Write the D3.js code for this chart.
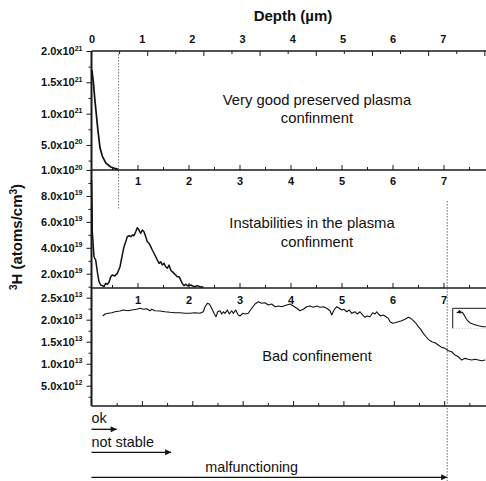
<!DOCTYPE html>
<html>
<head>
<meta charset="utf-8">
<script src="https://cdn.jsdelivr.net/npm/d3@7"></script>
<style>
  body { margin: 0; background: #fff; }
  svg { display: block; }
  text { font-family: Arial, "Liberation Sans", sans-serif; fill: #111; }
</style>
</head>
<body>
<svg id="chart" width="486" height="481"></svg>
<script>
// Depth tick labels along the top (µm)
const depthTicks = [0, 1, 2, 3, 4, 5, 6, 7];
const panelDepthTicks = [1, 2, 3, 4, 5, 6, 7];
const panelDepthMinor = [0.5, 1.5, 2.5, 3.5, 4.5, 5.5, 6.5, 7.5];

// Panel 1 — very good preserved plasma confinement (atoms/cm³)
const p1Depth = [0.005, 0.018, 0.041, 0.066, 0.095, 0.125, 0.161, 0.202, 0.263, 0.352, 0.441, 0.464, 0.49];
const p1Conc  = [1.70e21, 1.68e21, 1.516e21, 1.25e21, 0.983e21, 0.718e21, 0.451e21, 0.319e21, 0.212e21, 0.148e21, 0.121e21, 0.116e21, 0.105e21];
const p1YTicks = [2.0e21, 1.5e21, 1.0e21, 5.0e20, 1.0e20];
const p1YMinor = [1.75e21, 1.25e21, 0.75e21, 0.25e21];

// Panel 2 — instabilities in the plasma confinement (×1e19 atoms/cm³)
const p2Depth = [0.098,0.108,0.114,0.147,0.180,0.212,0.245,0.278,0.310,0.343,0.376,0.408,0.441,0.475,0.506,0.553,0.604,0.657,0.702,0.735,
                 0.769,0.800,0.833,0.867,0.898,0.931,0.965,0.996,1.029,1.063,1.094,1.127,1.161,1.192,1.225,1.259,1.290,1.324,1.357,1.388,
                 1.422,1.455,1.486,1.520,1.553,1.584,1.618,1.651,1.682,1.716,1.749,1.780,1.814,1.847,1.878,1.912,1.945,1.976,2.043,2.108,
                 2.173,2.239,2.290];
const p2Conc  = [9.23,7.30,5.24,3.31,3.06,2.16,1.39,1.13,1.08,1.00,1.26,1.19,1.34,1.77,1.90,1.83,2.03,2.54,3.45,4.09,
                 4.47,4.86,4.93,4.86,4.99,4.93,5.24,5.55,5.37,5.12,5.37,5.24,4.86,4.47,4.35,4.09,3.83,3.58,3.31,3.06,
                 2.80,2.93,2.67,2.80,2.54,2.42,2.67,2.29,2.16,2.03,1.90,1.77,1.77,1.52,1.26,1.08,1.19,1.08,1.13,1.00,
                 1.08,0.98,1.00];
const p2Unit = 1e19;
const p2YTicks = [8.0e19, 6.0e19, 4.0e19, 2.0e19];
const p2YMinor = [9e19, 7e19, 5e19, 3e19, 1e19];

// Panel 3 — bad confinement (×1e13 atoms/cm³)
const p3Depth = [0.318,0.363,0.427,0.494,0.559,0.657,0.722,0.820,0.886,0.984,1.049,1.114,1.180,1.245,1.278,1.343,1.441,1.539,1.637,1.735,
                 1.833,1.931,2.029,2.127,2.225,2.290,2.324,2.369,2.408,2.455,2.500,2.539,2.573,2.618,2.651,2.682,2.716,2.761,2.800,2.847,
                 2.878,2.925,2.976,3.010,3.063,3.108,3.173,3.239,3.304,3.369,3.435,3.500,3.565,3.631,3.696,3.761,3.827,3.925,3.990,4.055,
                 4.122,4.186,4.251,4.318,4.382,4.447,4.514,4.578,4.643,4.710,4.775,4.808,4.853,4.906,4.957,5.004,5.049,5.102,5.153,5.200,
                 5.265,5.310,5.363,5.416,5.461,5.506,5.559,5.612,5.657,5.690,5.722,5.769,5.820,5.873,5.918,5.951,6.004,6.049,6.114,6.180,
                 6.245,6.310,6.357,6.408,6.461,6.506,6.553,6.604,6.657,6.702,6.769,6.833,6.898,6.965,7.029,7.094,7.161,7.225,7.290,7.357,
                 7.422,7.486,7.553,7.618,7.682,7.749,7.814];
const p3Conc  = [2.084,2.129,2.145,2.159,2.181,2.197,2.220,2.204,2.220,2.236,2.259,2.236,2.250,2.204,2.236,2.204,2.197,2.181,2.168,2.159,
                 2.159,2.145,2.145,2.159,2.145,2.181,2.295,2.372,2.356,2.259,2.145,2.068,2.181,2.204,2.129,2.181,2.145,2.220,2.129,2.204,
                 2.145,2.220,2.106,2.084,2.145,2.129,2.145,2.259,2.356,2.409,2.372,2.386,2.334,2.356,2.295,2.311,2.295,2.334,2.356,2.311,
                 2.259,2.204,2.236,2.295,2.311,2.281,2.311,2.281,2.295,2.259,2.204,2.106,2.220,2.295,2.259,2.220,2.236,2.181,2.220,2.145,
                 2.181,2.129,2.181,2.106,2.054,2.084,2.068,2.159,2.129,2.181,2.129,2.084,2.106,2.068,2.031,1.954,1.918,1.931,1.954,1.977,
                 2.009,2.054,2.031,1.977,1.918,1.840,1.781,1.690,1.613,1.554,1.500,1.477,1.425,1.372,1.350,1.295,1.272,1.197,1.159,1.084,
                 1.122,1.100,1.084,1.100,1.084,1.068,1.084];
const p3Unit = 1e13;
const p3YTicks = [2.5e13, 2.0e13, 1.5e13, 1.0e13, 5.0e12];
const p3YMinor = [2.25e13, 1.75e13, 1.25e13, 0.75e13, 0.25e13];

// Small inset trace in panel 3 (relative units)
const insetX = [0.10, 0.18, 0.25, 0.31, 0.37, 0.43, 0.52, 0.64, 0.77, 0.83];
const insetY = [0.78, 0.83, 0.78, 0.58, 0.38, 0.28, 0.20, 0.13, 0.08, 0.08];

// Operating regimes (depth limits, µm)
const regimes = ["ok", "not stable", "malfunctioning"];
const regimeLimits = [0.5, 1.58, 7.06];
const okMarkerDepth = 0.49;

const svg = d3.select("#chart");
const ink = "#1a1a1a";
const L = 91.5, R = 486;

// Scales
const xTop = d3.scaleLinear().domain([0, 7.86]).range([L, R]);
const x1   = d3.scaleLinear().domain([0, 7.03]).range([91, R]);
const x23  = d3.scaleLinear().domain([0.098, 7.833]).range([L, R]);
const xBot = d3.scaleLinear().domain([0, 7.83]).range([L, R]);
const y1 = d3.scaleLinear().domain([1e20, 2e21]).range([170, 51]);
const y2 = d3.scaleLinear().domain([0.9e19, 1e20]).range([288, 170]);
const y3 = d3.scaleLinear().domain([0.04e13, 2.72e13]).range([406, 288]);

function noDomain(g) { g.select(".domain").remove(); g.attr("color", ink); }

// Scientific tick labels such as 2.0x10^21
function sciLabels(g) {
  g.selectAll(".tick text").each(function (d) {
    const e = Math.floor(Math.log10(d) + 1e-9);
    const m = d / Math.pow(10, e);
    const t = d3.select(this).text(null)
      .attr("font-weight", "bold").attr("font-size", "11px").attr("fill", "#111");
    t.append("tspan").text(m.toFixed(1) + "x10");
    t.append("tspan").attr("dy", "-4.5").attr("font-size", "7px").text(e);
  });
}

// Top depth labels
svg.append("g").attr("transform", `translate(0,${y1.range()[1]})`)
  .call(d3.axisTop(xTop).tickValues(depthTicks).tickSize(0).tickPadding(8).tickFormat(d3.format("d")))
  .call(noDomain)
  .call(g => g.selectAll("text").attr("font-weight", "bold").attr("font-size", "11px").attr("fill", "#111"));

// Panel 1 top ticks (inward)
svg.append("g").attr("transform", `translate(0,${y1.range()[1]})`)
  .call(d3.axisBottom(x1).tickValues([1, 2, 3, 4, 5, 6, 7]).tickSize(5).tickFormat(""))
  .call(noDomain);
svg.append("g").attr("transform", `translate(0,${y1.range()[1]})`)
  .call(d3.axisBottom(x1).tickValues([0.5, 1.5, 2.5, 3.5, 4.5, 5.5, 6.5]).tickSize(3).tickFormat(""))
  .call(noDomain);

// Panel separators with depth labels (panels 2 and 3)
[[y2.range()[1], 7], [y3.range()[1], 8]].forEach(([yy, pad]) => {
  svg.append("g").attr("transform", `translate(0,${yy})`)
    .call(d3.axisBottom(x23).tickValues(panelDepthTicks).tickSizeInner(-5).tickSizeOuter(0).tickPadding(pad).tickFormat(d3.format("d")))
    .call(noDomain)
    .call(g => g.selectAll("text").attr("font-weight", "bold").attr("font-size", "11px").attr("fill", "#111"));
  svg.append("g").attr("transform", `translate(0,${yy})`)
    .call(d3.axisBottom(x23).tickValues(panelDepthMinor).tickSizeInner(-3).tickSizeOuter(0).tickFormat(""))
    .call(noDomain);
});

// Bottom axis (ticks only)
svg.append("g").attr("transform", `translate(0,${y3.range()[0]})`)
  .call(d3.axisBottom(xBot).tickValues(panelDepthTicks).tickSizeInner(-5).tickSizeOuter(0).tickFormat(""))
  .call(noDomain);
svg.append("g").attr("transform", `translate(0,${y3.range()[0]})`)
  .call(d3.axisBottom(xBot).tickValues(panelDepthMinor).tickSizeInner(-3).tickSizeOuter(0).tickFormat(""))
  .call(noDomain);

// Left axes
[[y1, p1YTicks, p1YMinor], [y2, p2YTicks, p2YMinor], [y3, p3YTicks, p3YMinor]].forEach(([ys, major, minor]) => {
  svg.append("g").attr("transform", `translate(${L},0)`)
    .call(d3.axisLeft(ys).tickValues(major).tickSize(5).tickPadding(4))
    .call(noDomain).call(sciLabels);
  svg.append("g").attr("transform", `translate(${L},0)`)
    .call(d3.axisLeft(ys).tickValues(minor).tickSize(3).tickFormat(""))
    .call(noDomain);
});

// Frame lines
const frame = svg.append("g").attr("stroke", ink).attr("stroke-width", 1.6);
[y1.range()[1], y1.range()[0], y3.range()[1], y3.range()[0]].forEach(yy =>
  frame.append("line").attr("x1", L).attr("x2", R).attr("y1", yy).attr("y2", yy));
frame.append("line").attr("x1", L).attr("x2", L)
  .attr("y1", y1.range()[1]).attr("y2", y3.range()[0]).attr("stroke-width", 2);

// Curves
const line1 = d3.line().x((d, i) => x1(p1Depth[i])).y(d => y1(d));
svg.append("path").datum(p1Conc).attr("d", line1)
  .attr("fill", "none").attr("stroke", "#111").attr("stroke-width", 1.7);

const line2 = d3.line().x((d, i) => x23(p2Depth[i])).y(d => y2(d * p2Unit));
svg.append("path").datum(p2Conc).attr("d", line2)
  .attr("fill", "none").attr("stroke", "#111").attr("stroke-width", 1.5).attr("stroke-linejoin", "round");

const line3 = d3.line().x((d, i) => x23(p3Depth[i])).y(d => y3(d * p3Unit));
svg.append("path").datum(p3Conc).attr("d", line3)
  .attr("fill", "none").attr("stroke", "#111").attr("stroke-width", 1.1).attr("stroke-linejoin", "round");

// Dotted regime markers
svg.append("line")
  .attr("x1", x1(okMarkerDepth)).attr("x2", x1(okMarkerDepth))
  .attr("y1", y1.range()[1]).attr("y2", y2(7e19))
  .attr("stroke", "#666").attr("stroke-width", 0.9).attr("stroke-dasharray", "1.5,1.5");
svg.append("line")
  .attr("x1", xBot(regimeLimits[2])).attr("x2", xBot(regimeLimits[2]))
  .attr("y1", y2(7.6e19)).attr("y2", 481)
  .attr("stroke", "#555").attr("stroke-width", 0.9).attr("stroke-dasharray", "1.5,1.5");

// Inset in panel 3
const ix = d3.scaleLinear().domain([0, 1]).range([452.7, 492.7]);
const iy = d3.scaleLinear().domain([0, 1]).range([328.3, 308.3]);
const inset = svg.append("g");
inset.append("line").attr("x1", ix(0)).attr("x2", ix(1)).attr("y1", iy(1)).attr("y2", iy(1)).attr("stroke", ink).attr("stroke-width", 1);
inset.append("line").attr("x1", ix(0)).attr("x2", ix(0)).attr("y1", iy(1)).attr("y2", iy(0)).attr("stroke", ink).attr("stroke-width", 1);
inset.append("line").attr("x1", ix(0)).attr("x2", ix(1)).attr("y1", iy(0)).attr("y2", iy(0))
  .attr("stroke", "#999").attr("stroke-width", 0.7).attr("stroke-dasharray", "1,2");

const defs = svg.append("defs");
defs.append("marker").attr("id", "arrow").attr("viewBox", "0 0 10 10")
  .attr("refX", 10).attr("refY", 5).attr("markerWidth", 9).attr("markerHeight", 6)
  .attr("markerUnits", "userSpaceOnUse").attr("orient", "auto-start-reverse")
  .append("path").attr("d", "M0,0 L10,5 L0,10 z").attr("fill", "#111");
defs.append("marker").attr("id", "arrowSmall").attr("viewBox", "0 0 10 10")
  .attr("refX", 10).attr("refY", 5).attr("markerWidth", 5).attr("markerHeight", 4)
  .attr("markerUnits", "userSpaceOnUse").attr("orient", "auto-start-reverse")
  .append("path").attr("d", "M0,0 L10,5 L0,10 z").attr("fill", "#111");

const lineInset = d3.line().x((d, i) => ix(insetX[i])).y(d => iy(d));
inset.append("path").datum(insetY).attr("d", lineInset)
  .attr("fill", "none").attr("stroke", "#111").attr("stroke-width", 1.1)
  .attr("marker-start", "url(#arrowSmall)");

// Annotations
const note = (x, y, s, size) => svg.append("text").attr("x", x).attr("y", y)
  .attr("text-anchor", "middle").attr("font-size", size + "px").text(s);
note(317, 105, "Very good preserved plasma", 14.8);
note(317, 123, "confinment", 14.8);
note(312, 228, "Instabilities in the plasma", 14.8);
note(317, 247, "confinment", 14.8);
note(317, 361, "Bad confinement", 14.6);

// Axis titles
svg.append("text").attr("x", 293).attr("y", 21).attr("text-anchor", "middle")
  .attr("font-weight", "bold").attr("font-size", "15px").text("Depth (\u00b5m)");

const yt = svg.append("text").attr("transform", "translate(21.5,237) rotate(-90)")
  .attr("text-anchor", "middle").attr("font-weight", "bold").attr("font-size", "15px");
yt.append("tspan").attr("dy", -5).attr("font-size", "10px").text("3");
yt.append("tspan").attr("dy", 5).text("H (atoms/cm");
yt.append("tspan").attr("dy", -5).attr("font-size", "10px").text("3");
yt.append("tspan").attr("dy", 5).text(")");

// Regime arrows
const arrowY = [429.3, 452.3, 477.3];
const labelY = [423, 446.5, 471.5];
regimes.forEach((name, i) => {
  svg.append("line").attr("x1", xBot(0)).attr("x2", xBot(regimeLimits[i]))
    .attr("y1", arrowY[i]).attr("y2", arrowY[i])
    .attr("stroke", "#111").attr("stroke-width", 1.3).attr("marker-end", "url(#arrow)");
  const t = svg.append("text").attr("y", labelY[i]).attr("font-size", "14.4px").text(name);
  if (i < 2) t.attr("x", xBot(0));
  else t.attr("x", 251.7).attr("text-anchor", "middle");
});
</script>
</body>
</html>
